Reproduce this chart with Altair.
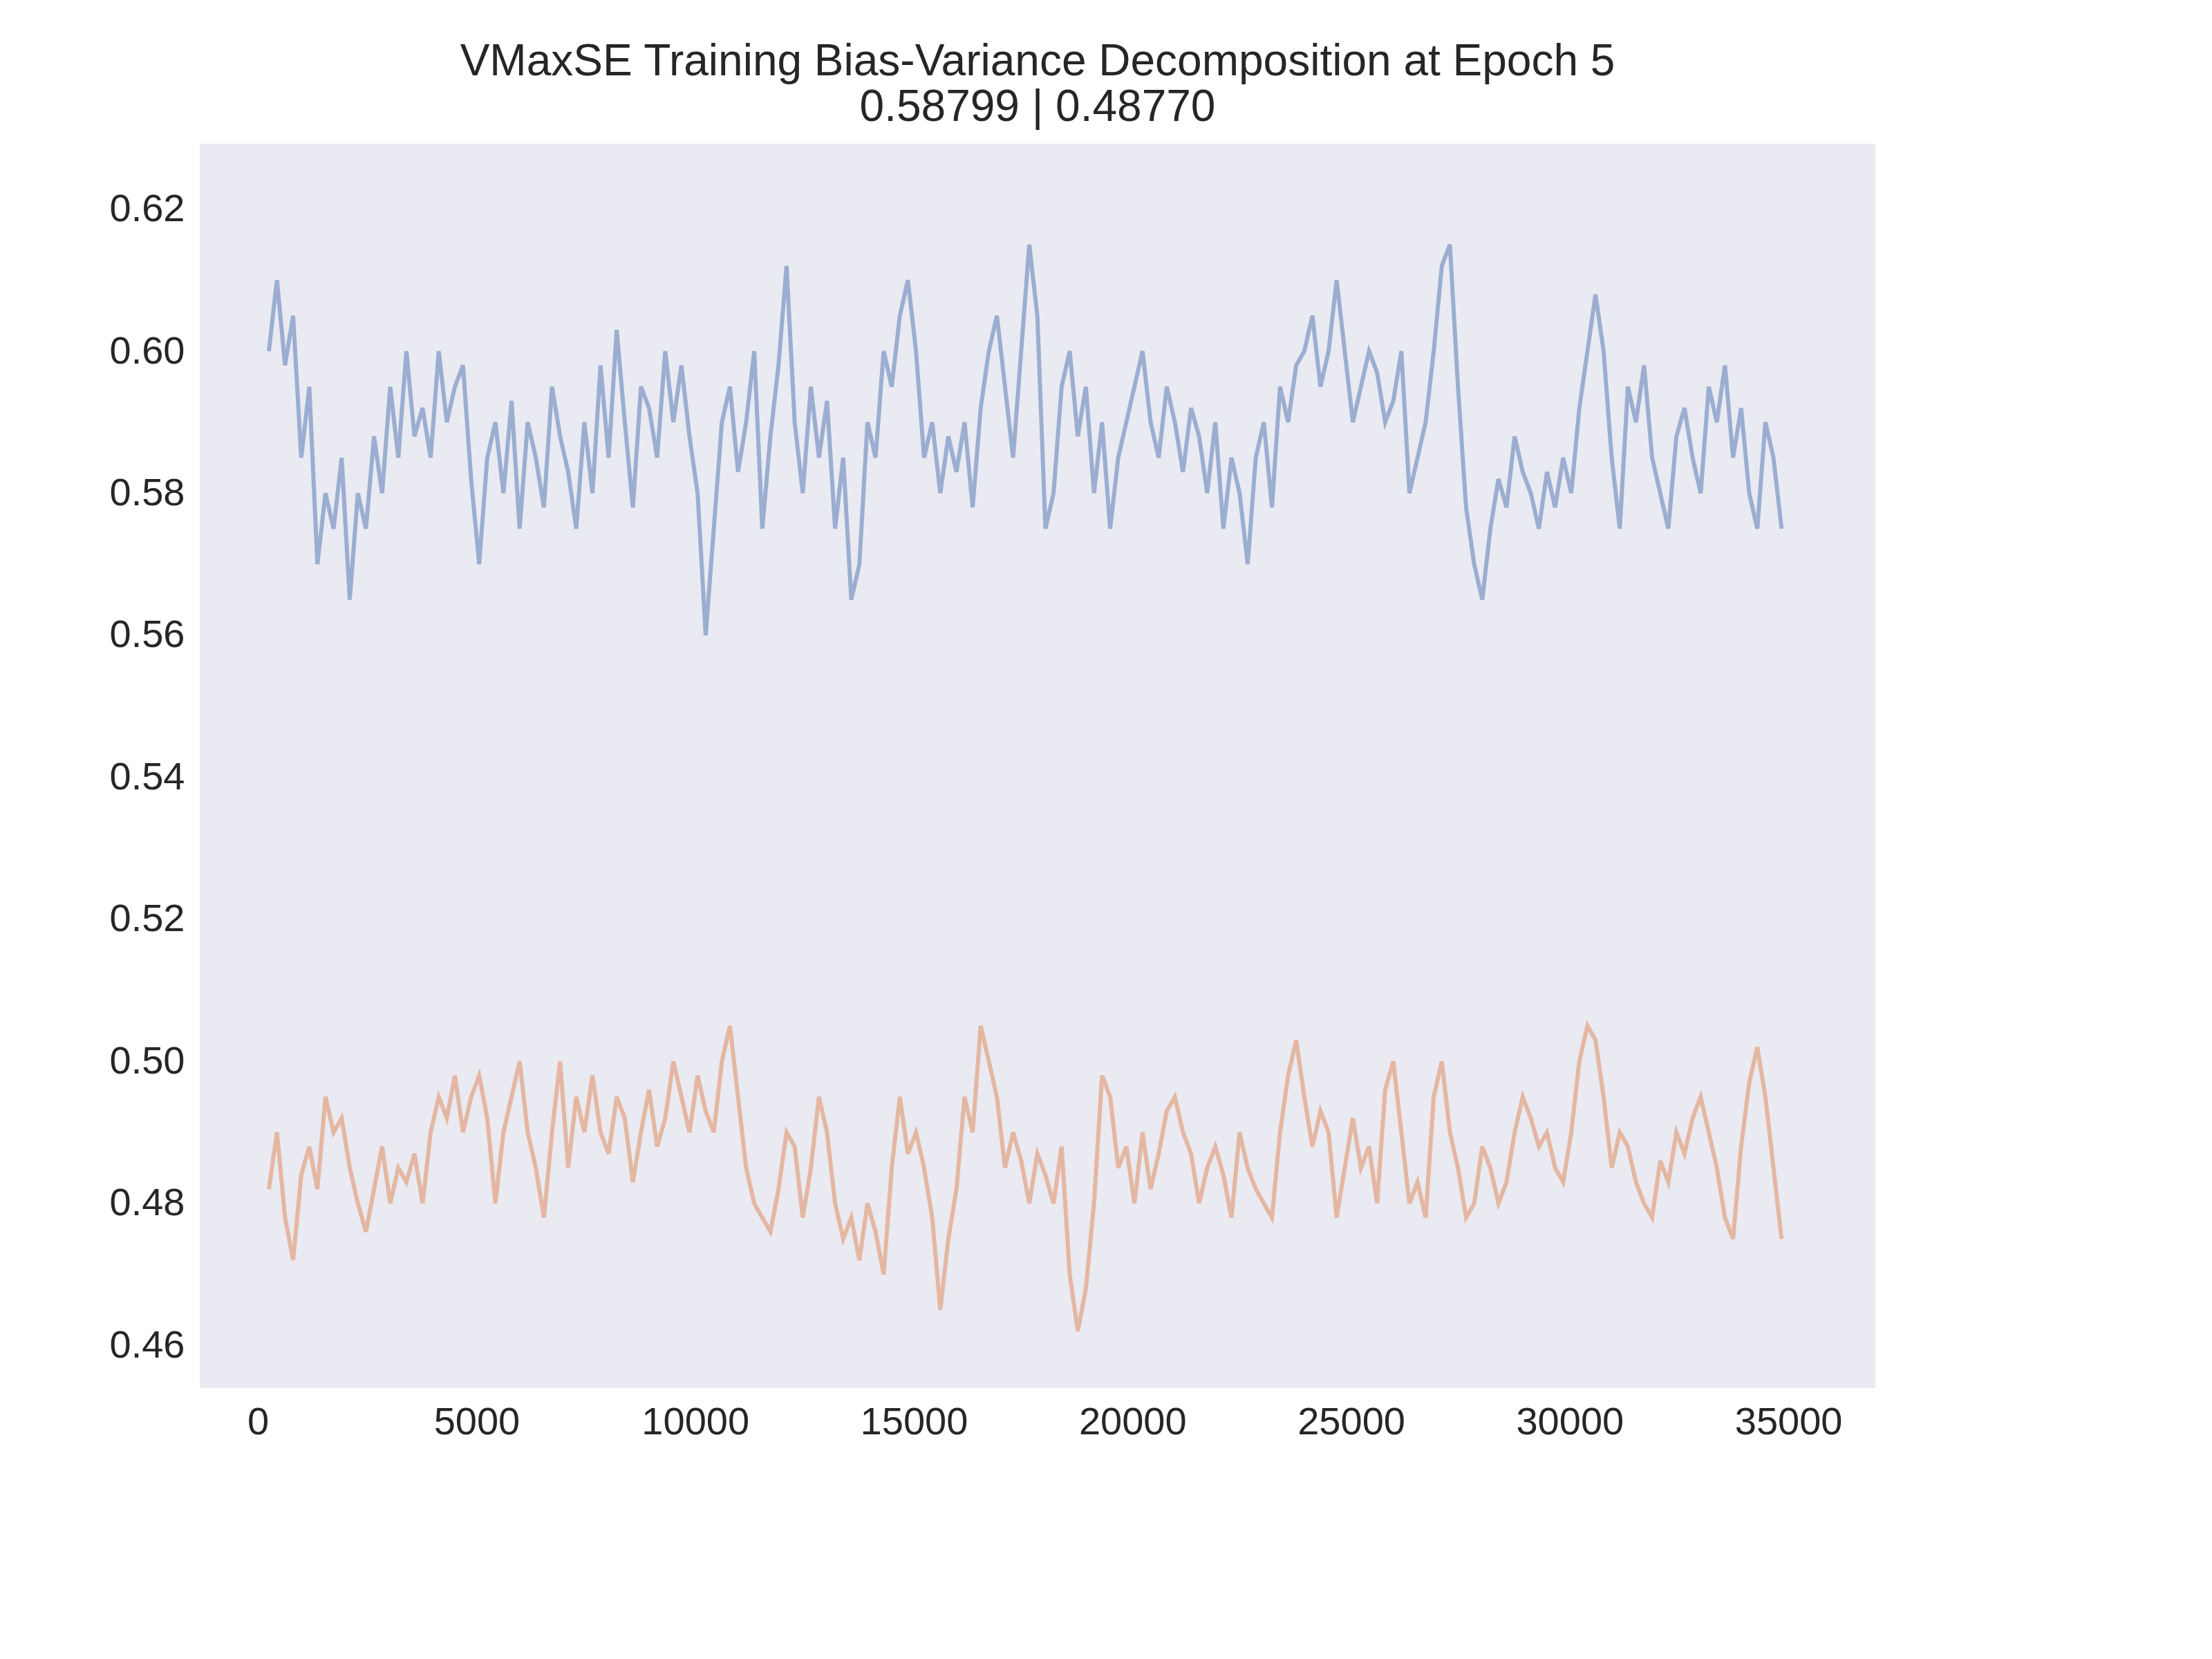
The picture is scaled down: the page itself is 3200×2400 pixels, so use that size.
import altair as alt
import pandas as pd

bias = [
    0.600, 0.610, 0.598, 0.605, 0.585, 0.595, 0.570, 0.580, 0.575, 0.585, 0.565, 0.580,
    0.575, 0.588, 0.580, 0.595, 0.585, 0.600, 0.588, 0.592, 0.585, 0.600, 0.590, 0.595,
    0.598, 0.582, 0.570, 0.585, 0.590, 0.580, 0.593, 0.575, 0.590, 0.585, 0.578, 0.595,
    0.588, 0.583, 0.575, 0.590, 0.580, 0.598, 0.585, 0.603, 0.590, 0.578, 0.595, 0.592,
    0.585, 0.600, 0.590, 0.598, 0.588, 0.580, 0.560, 0.575, 0.590, 0.595, 0.583, 0.590,
    0.600, 0.575, 0.588, 0.598, 0.612, 0.590, 0.580, 0.595, 0.585, 0.593, 0.575, 0.585,
    0.565, 0.570, 0.590, 0.585, 0.600, 0.595, 0.605, 0.610, 0.600, 0.585, 0.590, 0.580,
    0.588, 0.583, 0.590, 0.578, 0.592, 0.600, 0.605, 0.595, 0.585, 0.600, 0.615, 0.605,
    0.575, 0.580, 0.595, 0.600, 0.588, 0.595, 0.580, 0.590, 0.575, 0.585, 0.590, 0.595,
    0.600, 0.590, 0.585, 0.595, 0.590, 0.583, 0.592, 0.588, 0.580, 0.590, 0.575, 0.585,
    0.580, 0.570, 0.585, 0.590, 0.578, 0.595, 0.590, 0.598, 0.600, 0.605, 0.595, 0.600,
    0.610, 0.600, 0.590, 0.595, 0.600, 0.597, 0.590, 0.593, 0.600, 0.580, 0.585, 0.590,
    0.600, 0.612, 0.615, 0.595, 0.578, 0.570, 0.565, 0.575, 0.582, 0.578, 0.588, 0.583,
    0.580, 0.575, 0.583, 0.578, 0.585, 0.580, 0.592, 0.600, 0.608, 0.600, 0.585, 0.575,
    0.595, 0.590, 0.598, 0.585, 0.580, 0.575, 0.588, 0.592, 0.585, 0.580, 0.595, 0.590,
    0.598, 0.585, 0.592, 0.580, 0.575, 0.590, 0.585, 0.575,
]

variance = [
    0.482, 0.490, 0.478, 0.472, 0.484, 0.488, 0.482, 0.495, 0.490, 0.492, 0.485, 0.480,
    0.476, 0.482, 0.488, 0.480, 0.485, 0.483, 0.487, 0.480, 0.490, 0.495, 0.492, 0.498,
    0.490, 0.495, 0.498, 0.492, 0.480, 0.490, 0.495, 0.500, 0.490, 0.485, 0.478, 0.490,
    0.500, 0.485, 0.495, 0.490, 0.498, 0.490, 0.487, 0.495, 0.492, 0.483, 0.490, 0.496,
    0.488, 0.492, 0.500, 0.495, 0.490, 0.498, 0.493, 0.490, 0.500, 0.505, 0.495, 0.485,
    0.480, 0.478, 0.476, 0.482, 0.490, 0.488, 0.478, 0.485, 0.495, 0.490, 0.480, 0.475,
    0.478, 0.472, 0.480, 0.476, 0.470, 0.485, 0.495, 0.487, 0.490, 0.485, 0.478, 0.465,
    0.475, 0.482, 0.495, 0.490, 0.505, 0.500, 0.495, 0.485, 0.490, 0.486, 0.480, 0.487,
    0.484, 0.480, 0.488, 0.470, 0.462, 0.468, 0.480, 0.498, 0.495, 0.485, 0.488, 0.480,
    0.490, 0.482, 0.487, 0.493, 0.495, 0.490, 0.487, 0.480, 0.485, 0.488, 0.484, 0.478,
    0.490, 0.485, 0.482, 0.480, 0.478, 0.490, 0.498, 0.503, 0.495, 0.488, 0.493, 0.490,
    0.478, 0.485, 0.492, 0.485, 0.488, 0.480, 0.496, 0.500, 0.490, 0.480, 0.483, 0.478,
    0.495, 0.500, 0.490, 0.485, 0.478, 0.480, 0.488, 0.485, 0.480, 0.483, 0.490, 0.495,
    0.492, 0.488, 0.490, 0.485, 0.483, 0.490, 0.500, 0.505, 0.503, 0.495, 0.485, 0.490,
    0.488, 0.483, 0.480, 0.478, 0.486, 0.483, 0.490, 0.487, 0.492, 0.495, 0.490, 0.485,
    0.478, 0.475, 0.488, 0.497, 0.502, 0.495, 0.485, 0.475,
]

steps = [250 + 185 * i for i in range(len(bias))]

df = pd.DataFrame({"step": steps, "bias": bias, "variance": variance})
long = df.melt(id_vars="step", var_name="series", value_name="value")

chart = (
    alt.Chart(long)
    .mark_line(strokeWidth=6, opacity=0.5)
    .encode(
        x=alt.X("step:Q", title=None, scale=alt.Scale(domain=[-1330, 36990], nice=False, zero=False),
                axis=alt.Axis(values=[0, 5000, 10000, 15000, 20000, 25000, 30000, 35000], format="d")),
        y=alt.Y("value:Q", title=None, scale=alt.Scale(domain=[0.454, 0.6292], nice=False, zero=False),
                axis=alt.Axis(values=[0.46, 0.48, 0.50, 0.52, 0.54, 0.56, 0.58, 0.60, 0.62], format=".2f")),
        color=alt.Color("series:N", legend=None,
                        scale=alt.Scale(domain=["bias", "variance"], range=["#4c72b0", "#dd8452"])),
    )
    .properties(
        width=2424,
        height=1800,
        padding={"left": 150, "top": 50, "right": 150, "bottom": 100},
        title=alt.TitleParams(
            ["VMaxSE Training Bias-Variance Decomposition at Epoch 5", "0.58799 | 0.48770"],
            fontSize=64, fontWeight="normal", font="Liberation Sans", color="#262626", offset=20,
        ),
    )
    .configure_view(fill="#eaeaf2", stroke=None)
    .configure_axis(
        grid=False, domain=False, ticks=False, labelFontSize=56, labelFont="Liberation Sans",
        labelColor="#262626", labelPadding=22,
    )
)

chart.save("out.html", embed_options={"renderer": "svg", "actions": False})
